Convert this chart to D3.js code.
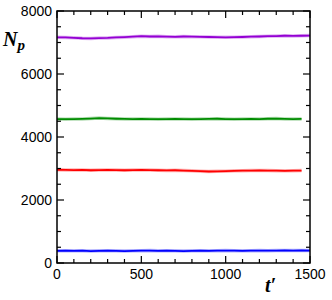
<!DOCTYPE html>
<html>
<head>
<meta charset="utf-8">
<script src="https://cdn.jsdelivr.net/npm/d3@7"></script>
<style>
  body { margin: 0; background: #fff; }
  svg { display: block; }
</style>
</head>
<body>
<div id="chart"></div>
<script>
// time samples (t') and particle counts per run
const tValues = [0, 50, 100, 150, 200, 250, 300, 350, 400, 450, 500, 550, 600, 650, 700, 750,
  800, 850, 900, 950, 1000, 1050, 1100, 1150, 1200, 1250, 1300, 1350, 1400, 1450, 1500];

const purple = [7165, 7160, 7150, 7135, 7130, 7140, 7145, 7160, 7170, 7185, 7200, 7190, 7195, 7185, 7180, 7190,
  7185, 7180, 7175, 7170, 7165, 7170, 7175, 7185, 7190, 7200, 7205, 7215, 7210, 7215, 7220];
const green = [4570, 4565, 4570, 4575, 4585, 4600, 4590, 4580, 4575, 4570, 4575, 4570, 4565, 4570, 4575, 4570,
  4565, 4570, 4575, 4580, 4570, 4565, 4570, 4575, 4570, 4580, 4585, 4575, 4570, 4575];
const red = [2960, 2955, 2950, 2955, 2945, 2950, 2955, 2950, 2945, 2950, 2955, 2950, 2945, 2940, 2945, 2935,
  2925, 2915, 2905, 2910, 2915, 2925, 2930, 2935, 2940, 2935, 2930, 2925, 2930, 2935];
const blue = [385, 390, 385, 390, 380, 385, 390, 385, 380, 385, 390, 395, 385, 390, 385, 380,
  385, 390, 385, 390, 395, 390, 385, 390, 395, 390, 395, 400, 395, 400, 395];

const series = [
  {values: purple, color: "#9400d3"},
  {values: green, color: "#008c00"},
  {values: red, color: "#ff0000"},
  {values: blue, color: "#0000ff"}
];

const xMajor = [0, 500, 1000, 1500];
const yMajor = [0, 2000, 4000, 6000, 8000];

const W = 332, H = 300;
const margin = {left: 57, right: 22, top: 11, bottom: 37};
const iw = W - margin.left - margin.right;
const ih = H - margin.top - margin.bottom;

const svg = d3.select("#chart").append("svg")
    .attr("width", W)
    .attr("height", H);

const g = svg.append("g")
    .attr("transform", `translate(${margin.left},${margin.top})`);

const x = d3.scaleLinear().domain([0, 1500]).range([0, iw]);
const y = d3.scaleLinear().domain([0, 8000]).range([ih, 0]);

// lines
const line = d3.line()
    .x((d, i) => x(tValues[i]))
    .y(d => y(d));

series.forEach(s => {
  g.append("path")
      .datum(s.values)
      .attr("fill", "none")
      .attr("stroke", s.color)
      .attr("stroke-opacity", 0.3)
      .attr("stroke-width", 3.5)
      .attr("d", line);
  g.append("path")
      .datum(s.values)
      .attr("fill", "none")
      .attr("stroke", s.color)
      .attr("stroke-width", 1.8)
      .attr("d", line);
});

// ticks, inward on all four sides
const xMinor = d3.range(0, 1501, 100).filter(v => v % 500 !== 0);
const yMinor = d3.range(0, 8001, 500).filter(v => v % 2000 !== 0);
const ticks = g.append("g").attr("stroke", "#000").attr("stroke-width", 1.2);

function xTick(v, len) {
  ticks.append("line").attr("x1", x(v)).attr("x2", x(v)).attr("y1", ih).attr("y2", ih - len);
  ticks.append("line").attr("x1", x(v)).attr("x2", x(v)).attr("y1", 0).attr("y2", len);
}
function yTick(v, len) {
  ticks.append("line").attr("y1", y(v)).attr("y2", y(v)).attr("x1", 0).attr("x2", len);
  ticks.append("line").attr("y1", y(v)).attr("y2", y(v)).attr("x1", iw).attr("x2", iw - len);
}
xMajor.forEach(v => xTick(v, 7));
xMinor.forEach(v => xTick(v, 4));
yMajor.forEach(v => yTick(v, 7));
yMinor.forEach(v => yTick(v, 4));

// frame
g.append("rect")
    .attr("width", iw)
    .attr("height", ih)
    .attr("fill", "none")
    .attr("stroke", "#000")
    .attr("stroke-width", 1.5);

// tick labels
g.append("g")
    .attr("font-family", "'Liberation Sans', Arial, sans-serif")
    .attr("font-size", 14)
    .attr("text-anchor", "middle")
  .selectAll("text")
  .data(xMajor)
  .join("text")
    .attr("x", d => x(d))
    .attr("y", ih + 16)
    .text(d => d);

g.append("g")
    .attr("font-family", "'Liberation Sans', Arial, sans-serif")
    .attr("font-size", 14)
    .attr("text-anchor", "end")
  .selectAll("text")
  .data(yMajor)
  .join("text")
    .attr("x", -5)
    .attr("y", d => y(d))
    .attr("dy", "0.36em")
    .text(d => d);

// axis titles
const yTitle = svg.append("text")
    .attr("x", 3)
    .attr("y", 46)
    .attr("font-family", "'Liberation Serif', 'Times New Roman', serif")
    .attr("font-style", "italic")
    .attr("font-weight", "bold")
    .attr("font-size", 20);
yTitle.append("tspan").text("N");
yTitle.append("tspan").attr("font-size", 15).attr("dy", 4).text("p");

svg.append("text")
    .attr("x", 265)
    .attr("y", 292)
    .attr("font-family", "'Liberation Serif', 'Times New Roman', serif")
    .attr("font-style", "italic")
    .attr("font-weight", "bold")
    .attr("font-size", 20)
    .text("t\u2032");
</script>
</body>
</html>
